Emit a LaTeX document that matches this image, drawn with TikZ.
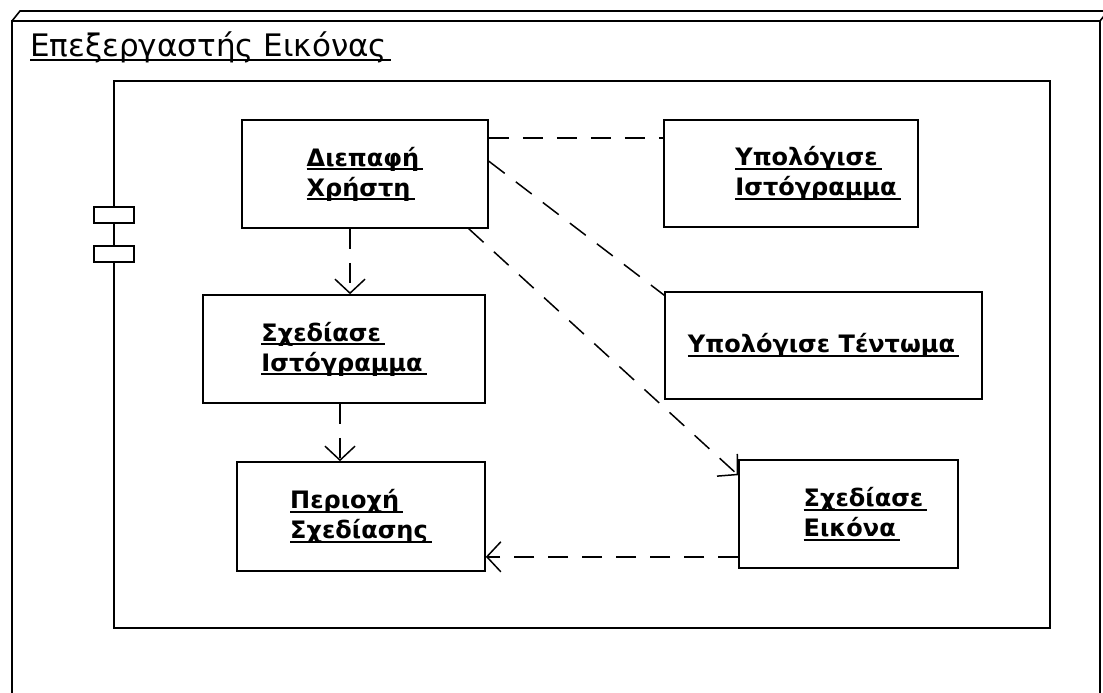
\documentclass[tikz,border=0pt]{standalone}
\usepackage{fontspec}
\setmainfont{DejaVu Sans}
\usetikzlibrary{arrows.meta,calc}

% underlined label with a fixed rule below the baseline
\newcommand{\lbl}[1]{\leavevmode\setbox0=\hbox{#1\kern4pt}%
  \rlap{\rule[-4pt]{\wd0}{2pt}}\box0}

\begin{document}
\begin{tikzpicture}[
    x=1pt, y=-1pt,
    every node/.style={
        font=\fontsize{24}{30}\selectfont\bfseries,
        align=left
    },
    part/.style={
        draw=black,
        fill=white,
        line width=1.6pt,
        inner sep=0pt
    },
    port/.style={
        draw=black,
        fill=white,
        line width=1.4pt,
        minimum width=40pt,
        minimum height=16pt
    },
    frame/.style={
        draw=black,
        line width=1.6pt
    },
    dep/.style={
        draw=black,
        line width=1.5pt,
        dash pattern=on 20pt off 14pt
    },
    deparrow/.style={
        dep,
        -{Straight Barb[length=14pt,width=30pt,line width=1.5pt]}
    }
]

\useasboundingbox (0,0) rectangle (1103,693);
\clip (0,0) rectangle (1103,693);

% ============================================================
% Node and component frames
% ============================================================

\draw[frame] (12,720) |- (1100,21) -- (1100,720);
\draw[frame] (12,21) -- (20,11) -- (1110,11);
\draw[frame] (1100,21) -- (1108,11);

\node[font=\fontsize{31}{36}\selectfont, anchor=base west, inner sep=0pt]
(title) at (30,57)
{\lbl{Επεξεργαστής Εικόνας}};

\draw[frame] (114,81) rectangle (1050,628);

\node[port] (portA) at (114,215) {};
\node[port] (portB) at (114,254) {};

% ============================================================
% Parts
% ============================================================

\node[part, minimum width=246pt, minimum height=108pt]
(ui) at (365,174)
{\lbl{Διεπαφή}\\\lbl{Χρήστη}};

\node[part, minimum width=254pt, minimum height=107pt]
(calchist) at (791,173.5)
{\hspace*{54pt}\lbl{Υπολόγισε}\\\hspace*{54pt}\lbl{Ιστόγραμμα}};

\node[part, minimum width=317pt, minimum height=107pt]
(stretch) at (823.5,345.5)
{\lbl{Υπολόγισε Τέντωμα}};

\node[part, minimum width=282pt, minimum height=108pt]
(drawhist) at (344,349)
{\lbl{Σχεδίασε}\\\lbl{Ιστόγραμμα}};

\node[part, minimum width=248pt, minimum height=109pt]
(area) at (361,516.5)
{\lbl{Περιοχή}\\\lbl{Σχεδίασης}};

\node[part, minimum width=219pt, minimum height=108pt]
(drawimg) at (848.5,514)
{\hspace*{34pt}\lbl{Σχεδίασε}\\\hspace*{34pt}\lbl{Εικόνα}};

% ============================================================
% Dependencies
% ============================================================

\coordinate (uiR) at ([yshift=-19pt]ui.north east);
\coordinate (uiD) at ([yshift=-42pt]ui.north east);
\coordinate (uiB) at ([xshift=-15pt]ui.south);
\coordinate (uiC) at ([xshift=-20pt]ui.south east);

\draw[dep]
(uiR) -- (uiR -| calchist.west);

\draw[dep]
(uiD) -- ([yshift=-4pt]stretch.north west);

\draw[deparrow]
(uiB) -- (uiB |- drawhist.north);

\draw[deparrow]
(uiC) -- ([yshift=-16pt]drawimg.north west);

\coordinate (histB) at ([xshift=-4pt]drawhist.south);

\draw[deparrow]
(histB) -- (histB |- area.north);

\coordinate (imgL) at ([yshift=12pt]drawimg.south west);

\draw[deparrow]
(imgL) -- (imgL -| area.east);

\end{tikzpicture}
\end{document}
